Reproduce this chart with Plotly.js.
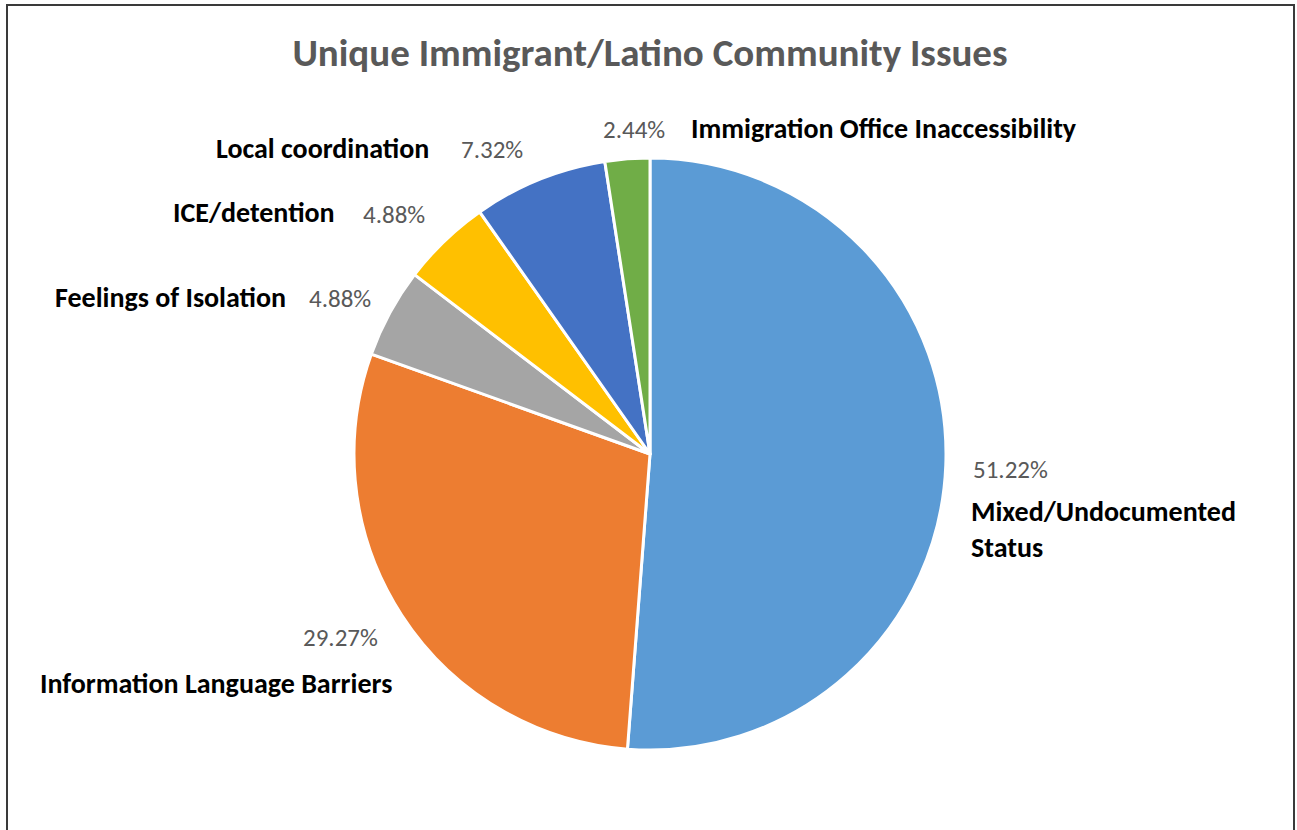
<!DOCTYPE html>
<html>
<head>
<meta charset="utf-8">
<script src="https://cdn.plot.ly/plotly-3.0.1.min.js"></script>
<style>html,body{margin:0;padding:0;background:#fff;}#chart{width:1297px;height:830px;}</style>
</head>
<body>
<div id="chart"></div>
<script>
// ---- data ----
var categories = ["Mixed/Undocumented Status", "Information Language Barriers", "Feelings of Isolation", "ICE/detention", "Local coordination", "Immigration Office Inaccessibility"];
var labelLines = ["Mixed/Undocumented<br>Status", "Information Language Barriers", "Feelings of Isolation", "ICE/detention", "Local coordination", "Immigration Office Inaccessibility"];
var percents = [51.22, 29.27, 4.88, 4.88, 7.32, 2.44];
var colors = ["#5B9BD5", "#ED7D31", "#A5A5A5", "#FFC000", "#4472C4", "#70AD47"];
var chartTitle = "Unique Immigrant/Latino Community Issues";

// ---- layout geometry (pixels) ----
var W = 1297, H = 830;
var m = {l: 354, r: 351, t: 158, b: 80};
var pw = W - m.l - m.r, ph = H - m.t - m.b;
function px(x) { return (x - m.l) / pw; }
function py(y) { return (H - m.b - y) / ph; }

var FONT = "Carlito, 'Liberation Sans Narrow', 'Open Sans', sans-serif";
var nameFont = {family: FONT, size: 28, color: "#000000", weight: "bold"};
var pctFont = {family: FONT, size: 25, color: "#595959"};

// label placement: [nameX, nameY, pctX, pctY] (left-anchored)
var place = [
  [969, 529, 971, 469],
  [38, 683, 301, 637],
  [53, 297, 307, 298],
  [171, 213, 361, 214],
  [214, 148, 459, 150],
  [689, 128, 601, 129]
];

var annotations = [];
for (var i = 0; i < categories.length; i++) {
  var p = place[i];
  annotations.push({
    xref: "paper", yref: "paper", x: px(p[0]), y: py(p[1]),
    xanchor: "left", yanchor: "middle", align: "left",
    text: labelLines[i], showarrow: false, font: nameFont
  });
  annotations.push({
    xref: "paper", yref: "paper", x: px(p[2]), y: py(p[3]),
    xanchor: "left", yanchor: "middle",
    text: percents[i].toFixed(2) + "%", showarrow: false, font: pctFont
  });
}

var trace = {
  type: "pie",
  labels: categories,
  values: percents,
  sort: false,
  direction: "clockwise",
  rotation: 0,
  textinfo: "none",
  hoverinfo: "label+percent",
  marker: {colors: colors, line: {color: "#ffffff", width: 3}},
  domain: {x: [0, 1], y: [0, 1]}
};

var layout = {
  width: W, height: H,
  margin: m,
  paper_bgcolor: "#ffffff",
  showlegend: false,
  title: {
    text: "<b>" + chartTitle + "</b>",
    font: {family: FONT, size: 39, color: "#595959"},
    x: 0.5, xanchor: "center", y: 1 - 52 / H, yanchor: "middle", xref: "paper"
  },
  annotations: annotations,
  shapes: [{
    type: "rect", xref: "paper", yref: "paper",
    x0: px(7), x1: px(1294), y0: py(840), y1: py(5),
    line: {color: "#3a3a3a", width: 2}, fillcolor: "rgba(0,0,0,0)", layer: "above"
  }]
};

Plotly.newPlot("chart", [trace], layout, {displayModeBar: false, staticPlot: true});
</script>
</body>
</html>
